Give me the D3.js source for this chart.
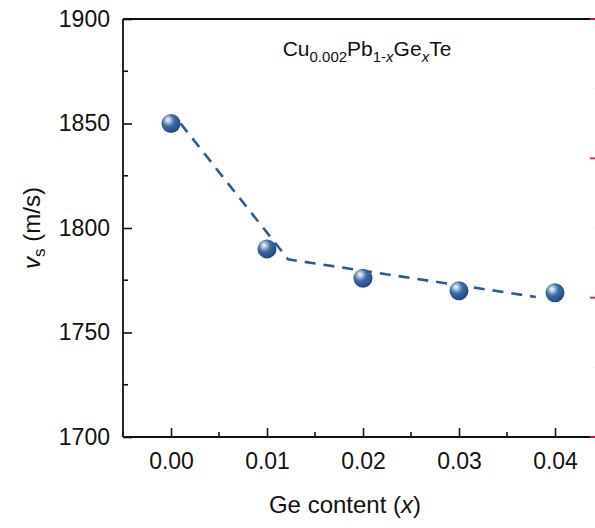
<!DOCTYPE html>
<html>
<head>
<meta charset="utf-8">
<script src="https://cdn.jsdelivr.net/npm/d3@7"></script>
<style>
  body { margin: 0; background: #fff; }
  text { font-family: "Liberation Sans", Arial, sans-serif; fill: #111; }
</style>
</head>
<body>
<div id="chart"></div>
<script>
// data
const geContent = [0.00, 0.01, 0.02, 0.03, 0.04];
const soundVelocity = [1850, 1790, 1776, 1770, 1769];
// dashed guide line (fit), start / elbow / end
const fitX = [0.001, 0.0122, 0.038];
const fitY = [1850, 1785, 1767];
const xTicks = [0.00, 0.01, 0.02, 0.03, 0.04];
const yTicks = [1700, 1750, 1800, 1850, 1900];
const rightTicks = [0, 1, 2, 3];

const width = 595, height = 528;
const plotLeft = 123, plotRight = 597, plotTop = 19, plotBottom = 437;

const svg = d3.select("#chart").append("svg")
  .attr("width", width)
  .attr("height", height);

const defs = svg.append("defs");
const grad = defs.append("radialGradient")
  .attr("id", "ball")
  .attr("cx", "38%").attr("cy", "36%").attr("r", "65%")
  .attr("fx", "34%").attr("fy", "30%");
grad.append("stop").attr("offset", "0%").attr("stop-color", "#ffffff");
grad.append("stop").attr("offset", "18%").attr("stop-color", "#b3cbe4");
grad.append("stop").attr("offset", "50%").attr("stop-color", "#3b6ca6");
grad.append("stop").attr("offset", "100%").attr("stop-color", "#1f4b82");

const x = d3.scaleLinear().domain([-0.005, 0.044375]).range([plotLeft, plotRight]);
const y = d3.scaleLinear().domain([1700, 1900]).range([plotBottom, plotTop]);
const yRight = d3.scaleLinear().domain([0, 3]).range([plotBottom, plotTop]);

// minor ticks
const xMinor = d3.range(-0.005, 0.0441, 0.005).filter(v => !xTicks.some(t => Math.abs(t - v) < 1e-9));
const yMinor = d3.range(1725, 1900, 50);

// axes
const xAxis = svg.append("g")
  .attr("transform", `translate(0,${plotBottom})`)
  .call(d3.axisBottom(x).tickValues(xTicks).tickSize(-9).tickPadding(16).tickFormat(d3.format(".2f")));
xAxis.append("g").selectAll("line").data(xMinor).join("line")
  .attr("x1", d => x(d)).attr("x2", d => x(d))
  .attr("y1", 0).attr("y2", -5)
  .attr("stroke", "#111").attr("stroke-width", 1.6);

const yAxis = svg.append("g")
  .attr("transform", `translate(${plotLeft},0)`)
  .call(d3.axisLeft(y).tickValues(yTicks).tickSize(-9).tickPadding(13).tickFormat(d3.format("d")));
yAxis.append("g").selectAll("line").data(yMinor).join("line")
  .attr("y1", d => y(d)).attr("y2", d => y(d))
  .attr("x1", 0).attr("x2", 5)
  .attr("stroke", "#111").attr("stroke-width", 1.6);

// top frame line
svg.append("line")
  .attr("x1", plotLeft).attr("x2", plotRight)
  .attr("y1", plotTop).attr("y2", plotTop)
  .attr("stroke", "#111").attr("stroke-width", 1.8);

// right axis (cropped in the original), red inward ticks
const rAxis = svg.append("g").attr("transform", `translate(${plotRight},0)`);
rAxis.selectAll("line.major").data(rightTicks).join("line")
  .attr("class", "major")
  .attr("x1", 0).attr("x2", -7)
  .attr("y1", d => yRight(d)).attr("y2", d => yRight(d))
  .attr("stroke", "#d81b60").attr("stroke-width", 1.8);
rAxis.selectAll("line.minor").data([0.5, 1.5, 2.5]).join("line")
  .attr("class", "minor")
  .attr("x1", -1).attr("x2", -3)
  .attr("y1", d => yRight(d)).attr("y2", d => yRight(d))
  .attr("stroke", "#e6e6e6").attr("stroke-width", 1.2);

svg.selectAll(".domain").attr("stroke", "#111").attr("stroke-width", 1.8);
svg.selectAll(".tick line").attr("stroke", "#111").attr("stroke-width", 1.6);
svg.selectAll(".tick text").attr("font-size", 23).attr("fill", "#111")
  .attr("font-family", "Liberation Sans, Arial, sans-serif");
xAxis.selectAll(".domain").attr("d", `M${plotLeft},0H${plotRight}`);
yAxis.selectAll(".domain").attr("d", `M0,${plotBottom}V${plotTop}`);

// dashed fit line
const line = d3.line().x(d => x(d[0])).y(d => y(d[1]));
svg.append("path")
  .datum(d3.zip(fitX, fitY))
  .attr("d", line)
  .attr("fill", "none")
  .attr("stroke", "#2c5d91")
  .attr("stroke-width", 2.6)
  .attr("stroke-dasharray", "11,8");

// spheres
svg.selectAll("circle.pt").data(d3.zip(geContent, soundVelocity)).join("circle")
  .attr("class", "pt")
  .attr("cx", d => x(d[0]))
  .attr("cy", d => y(d[1]))
  .attr("r", 9.5)
  .attr("fill", "url(#ball)");

// composition label
const title = svg.append("text")
  .attr("x", 367).attr("y", 56)
  .attr("text-anchor", "middle")
  .attr("font-size", 21);
title.append("tspan").text("Cu");
title.append("tspan").attr("font-size", 15).attr("dy", 6).text("0.002");
title.append("tspan").attr("dy", -6).text("Pb");
title.append("tspan").attr("font-size", 15).attr("dy", 6).text("1-");
title.append("tspan").attr("font-size", 15).attr("font-style", "italic").text("x");
title.append("tspan").attr("dy", -6).text("Ge");
title.append("tspan").attr("font-size", 15).attr("font-style", "italic").attr("dy", 6).text("x");
title.append("tspan").attr("dy", -6).text("Te");

// axis titles
const xt = svg.append("text")
  .attr("x", 345).attr("y", 513)
  .attr("text-anchor", "middle")
  .attr("font-size", 24);
xt.append("tspan").text("Ge content (");
xt.append("tspan").attr("font-style", "italic").text("x");
xt.append("tspan").text(")");

const yt = svg.append("text")
  .attr("transform", `translate(40,228) rotate(-90)`)
  .attr("text-anchor", "middle")
  .attr("font-size", 24);
yt.append("tspan").attr("font-style", "italic").text("v");
yt.append("tspan").attr("font-size", 17).attr("dy", 5).text("s");
yt.append("tspan").attr("dy", -5).text(" (m/s)");
</script>
</body>
</html>
